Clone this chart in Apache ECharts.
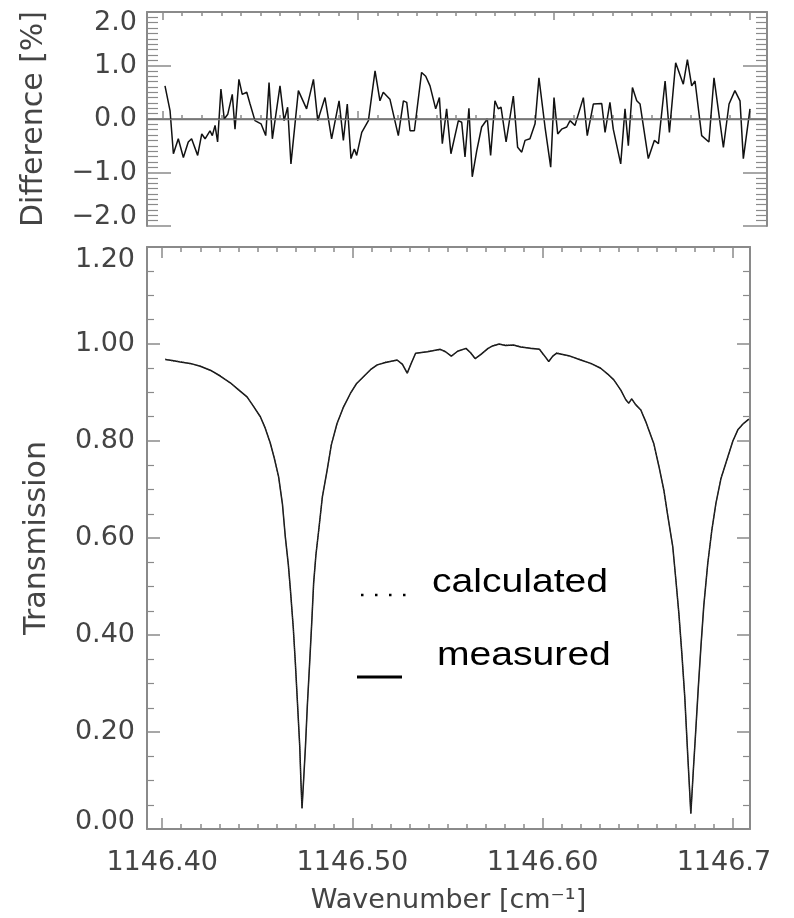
<!DOCTYPE html>
<html><head><meta charset="utf-8">
<script src="https://cdn.jsdelivr.net/npm/echarts@6/dist/echarts.min.js"></script>
<style>html,body{margin:0;padding:0;background:#fff}#c{width:794px;height:918px}</style>
</head><body><div id="c"></div>
<script>
// ---------------- data ----------------
const WAVENUMBER_T = [
1146.4016,1146.4053,1146.4095,1146.4147,1146.4200,1146.4253,1146.4305,1146.4358,1146.4400,1146.4446,
1146.4479,1146.4516,1146.4542,1146.4568,1146.4589,1146.4612,1146.4632,1146.4647,1146.4663,1146.4674,
1146.4689,1146.4700,1146.4711,1146.4723,1146.4729,1146.4735,1146.4744,1146.4753,1146.4763,1146.4775,
1146.4786,1146.4796,1146.4808,1146.4823,1146.4842,1146.4867,1146.4889,1146.4919,1146.4953,1146.4989,
1146.5021,1146.5059,1146.5095,1146.5130,1146.5174,1146.5235,1146.5263,1146.5288,1146.5311,1146.5332,
1146.5395,1146.5462,1146.5489,1146.5520,1146.5553,1146.5597,1146.5621,1146.5645,1146.5674,1146.5713,
1146.5737,1146.5771,1146.5805,1146.5847,1146.5884,1146.5937,1146.5983,1146.6005,1146.6032,1146.6053,
1146.6074,1146.6137,1146.6200,1146.6253,1146.6305,1146.6342,1146.6374,1146.6411,1146.6437,1146.6453,
1146.6468,1146.6489,1146.6516,1146.6542,1146.6568,1146.6584,1146.6611,1146.6637,1146.6658,1146.6684,
1146.6700,1146.6716,1146.6732,1146.6747,1146.6763,1146.6779,1146.6792,1146.6805,1146.6818,1146.6832,
1146.6847,1146.6868,1146.6889,1146.6911,1146.6937,1146.6974,1146.7000,1146.7026,1146.7053,1146.7068,1146.7084];
const MEASURED_T = [
.968,.966,.963,.960,.954,.946,.934,.920,.906,.891,
.872,.850,.826,.796,.765,.726,.670,.603,.545,.493,
.415,.342,.260,.170,.100,.043,.105,.170,.255,.342,
.425,.507,.565,.617,.685,.740,.792,.836,.870,.898,
.918,.933,.947,.957,.962,.967,.958,.940,.962,.981,
.984,.989,.984,.975,.985,.991,.982,.970,.978,.991,
.996,1.000,.997,.998,.994,.991,.989,.978,.964,.975,
.981,.976,.967,.960,.950,.938,.926,.905,.885,.878,
.887,.875,.864,.840,.812,.795,.748,.699,.645,.582,
.515,.445,.360,.273,.150,.032,.120,.204,.290,.376,
.460,.548,.615,.672,.722,.768,.800,.823,.835,.840,.845];
const CALCULATED_T = [
.969,.965,.964,.959,.955,.945,.935,.919,.907,.890,
.873,.849,.827,.795,.766,.725,.671,.602,.546,.492,
.416,.341,.261,.169,.101,.042,.106,.169,.256,.341,
.426,.506,.566,.616,.686,.739,.793,.835,.871,.897,
.919,.932,.948,.956,.963,.966,.959,.939,.963,.980,
.985,.988,.985,.974,.986,.990,.983,.969,.979,.990,
.997,.999,.998,.997,.995,.990,.990,.977,.965,.974,
.982,.975,.968,.959,.951,.937,.927,.904,.886,.877,
.888,.874,.865,.839,.813,.794,.749,.698,.646,.581,
.516,.444,.361,.272,.151,.031,.121,.203,.291,.375,
.461,.547,.616,.671,.723,.767,.801,.822,.836,.839,.846];
const WAVENUMBER_D = [
1146.4012,1146.4038,1146.4055,1146.4080,1146.4106,1146.4131,1146.4148,1146.4179,1146.4200,1146.4217,
1146.4242,1146.4254,1146.4268,1146.4281,1146.4298,1146.4315,1146.4333,1146.4356,1146.4370,1146.4390,
1146.4407,1146.4430,1146.4447,1146.4472,1146.4503,1146.4527,1146.4544,1146.4561,1146.4600,1146.4621,
1146.4639,1146.4656,1146.4694,1146.4736,1146.4771,1146.4793,1146.4830,1146.4864,1146.4902,1146.4924,
1146.4944,1146.4963,1146.4980,1146.4992,1146.5018,1146.5052,1146.5086,1146.5111,1146.5128,1146.5162,
1146.5205,1146.5231,1146.5248,1146.5265,1146.5287,1146.5324,1146.5345,1146.5367,1146.5396,1146.5415,
1146.5430,1146.5452,1146.5474,1146.5512,1146.5529,1146.5546,1146.5566,1146.5583,1146.5606,1146.5631,
1146.5660,1146.5677,1146.5699,1146.5716,1146.5730,1146.5756,1146.5793,1146.5815,1146.5836,1146.5853,
1146.5878,1146.5904,1146.5924,1146.5955,1146.5984,1146.6001,1146.6020,1146.6040,1146.6066,1146.6083,
1146.6108,1146.6151,1146.6171,1146.6202,1146.6245,1146.6262,1146.6287,1146.6304,1146.6342,1146.6364,
1146.6381,1146.6402,1146.6424,1146.6441,1146.6483,1146.6514,1146.6535,1146.6569,1146.6591,1146.6623,
1146.6662,1146.6683,1146.6705,1146.6722,1146.6756,1146.6793,1146.6819,1146.6867,1146.6896,1146.6926,
1146.6952,1146.6969,1146.7003];
const DIFFERENCE = [
.62,.15,-.65,-.37,-.72,-.43,-.37,-.68,-.28,-.37,
-.22,-.31,-.12,-.43,.56,.00,.09,.46,-.19,.74,
.46,.50,.28,-.03,-.09,-.31,.68,-.37,.62,-.03,
.22,-.84,.53,.19,.74,-.03,.40,-.37,.34,-.40,
.28,-.74,-.56,-.68,-.25,-.03,.90,.34,.50,.37,
-.31,.34,.31,-.22,-.22,.87,.80,.62,.19,.40,
-.46,.19,-.65,-.03,-.06,-.71,.20,-1.08,-.59,-.15,
.00,-.68,.34,.19,.22,-.43,.43,-.53,-.62,-.40,
-.37,-.09,.77,-.15,-.90,.40,-.28,-.19,-.15,-.03,
-.12,.40,-.31,.28,.29,-.25,.31,-.19,-.84,.19,
-.50,.59,.34,.28,-.74,-.40,-.46,.71,-.25,1.05,
.65,1.11,.62,.71,-.31,-.43,.77,-.53,.28,.53,
.34,-.74,.19];

// ticks and tick labels
const X_MAJOR = [1146.40, 1146.50, 1146.60, 1146.70];
const X_LABELS = ['1146.40', '1146.50', '1146.60', '1146.7'];
const X_MINOR = [1146.41,1146.42,1146.43,1146.44,1146.45,1146.46,1146.47,1146.48,1146.49,
                 1146.51,1146.52,1146.53,1146.54,1146.55,1146.56,1146.57,1146.58,1146.59,
                 1146.61,1146.62,1146.63,1146.64,1146.65,1146.66,1146.67,1146.68,1146.69];
const Y_DIFF_TICKS = [-2, -1, 0, 1, 2];
const Y_DIFF_LABELS = ['\u22122.0', '\u22121.0', '0.0', '1.0', '2.0'];
const Y_T_TICKS = [0, 0.2, 0.4, 0.6, 0.8, 1.0, 1.2];
const Y_T_LABELS = ['0.00', '0.20', '0.40', '0.60', '0.80', '1.00', '1.20'];

// ---------------- styling ----------------
const XMIN = 1146.392, XMAX = 1146.709;
const FONT = 'DejaVu Sans';
const LBL = {fontFamily: FONT, fontSize: 27, color: '#444'};
const FRAME = {show: true, lineStyle: {color: '#8a8a8a', width: 2}};
const TICKC = '#8a8a8a';

function lookup(ticks, labels, v) {
  let best = 0, d = Infinity;
  ticks.forEach((t, i) => { const dd = Math.abs(t - v); if (dd < d) { d = dd; best = i; } });
  return {i: best, s: labels[best]};
}

function xAxes(grid, pos, majLen, minLen, withLabels) {
  const major = {
    type: 'value', gridIndex: grid, position: pos, min: XMIN, max: XMAX,
    axisLine: FRAME, splitLine: {show: false},
    axisTick: {show: true, inside: true, length: majLen, customValues: X_MAJOR, lineStyle: {color: TICKC, width: 1.5}},
    axisLabel: {show: false}
  };
  if (withLabels) {
    major.axisLabel = Object.assign({}, LBL, {
      show: true, margin: 20, customValues: X_MAJOR,
      formatter: v => { const r = lookup(X_MAJOR, X_LABELS, v); return r.i === 3 ? '{clip|' + r.s + '}' : r.s; },
      rich: {clip: Object.assign({}, LBL, {padding: [0, 18, 0, 0]})}
    });
    major.name = 'Wavenumber [cm\u207B\u00B9]';
    major.nameLocation = 'middle';
    major.nameGap = 58;
    major.nameTextStyle = {fontFamily: FONT, fontSize: 27, color: '#444'};
  }
  const minor = {
    type: 'value', gridIndex: grid, position: pos, min: XMIN, max: XMAX,
    axisLine: {show: false}, splitLine: {show: false},
    axisTick: {show: true, inside: true, length: minLen, customValues: X_MINOR, lineStyle: {color: TICKC, width: 1.5}},
    axisLabel: {show: false}
  };
  return [major, minor];
}

function yAxis(grid, pos, min, max, interval, majLen, minSplit, minLen, labelCfg, name, nameGap) {
  const a = {
    type: 'value', gridIndex: grid, position: pos, min: min, max: max, interval: interval,
    axisLine: FRAME, splitLine: {show: false}, minorSplitLine: {show: false},
    axisTick: {show: true, inside: true, length: majLen, lineStyle: {color: TICKC, width: 1.5}},
    minorTick: {show: true, splitNumber: minSplit, length: minLen, lineStyle: {color: TICKC, width: 1.2}},
    axisLabel: labelCfg || {show: false}
  };
  if (name) {
    a.name = name; a.nameLocation = 'middle'; a.nameGap = nameGap;
    a.nameTextStyle = {fontFamily: FONT, fontSize: 30, color: '#444'};
  }
  return a;
}

const diffLabel = Object.assign({}, LBL, {
  show: true, margin: 10,
  formatter: v => {
    const r = lookup(Y_DIFF_TICKS, Y_DIFF_LABELS, v);
    if (r.i === 4) return '{dn|' + r.s + '}';
    if (r.i === 0) return '{up|' + r.s + '}';
    return r.s;
  },
  rich: {dn: Object.assign({}, LBL, {padding: [22, 0, 0, 0]}), up: Object.assign({}, LBL, {padding: [0, 0, 18, 0]})}
});
const tLabel = Object.assign({}, LBL, {
  show: true, margin: 12,
  formatter: v => {
    const r = lookup(Y_T_TICKS, Y_T_LABELS, v);
    if (r.i === 6) return '{dn|' + r.s + '}';
    if (r.i === 0) return '{up|' + r.s + '}';
    return r.s;
  },
  rich: {dn: Object.assign({}, LBL, {padding: [26, 0, 0, 0]}), up: Object.assign({}, LBL, {padding: [0, 0, 14, 0]})}
});

const zip = (xs, ys) => xs.map((x, i) => [x, ys[i]]);

const option = {
  animation: false,
  backgroundColor: '#fff',
  grid: [
    {left: 147, top: 12, width: 620, height: 214, containLabel: false, outerBoundsMode: 'none'},
    {left: 147, top: 247, width: 603, height: 582, containLabel: false, outerBoundsMode: 'none'}
  ],
  xAxis: [].concat(
    xAxes(0, 'bottom', 8, 4, false),
    xAxes(0, 'top', 8, 4, false),
    xAxes(1, 'bottom', 11, 5, true),
    xAxes(1, 'top', 11, 5, false)
  ),
  yAxis: [
    yAxis(0, 'left', -2, 2, 1, 24, 10, 11, diffLabel, 'Difference [%]', 98),
    yAxis(0, 'right', -2, 2, 1, 24, 10, 11, null),
    yAxis(1, 'left', 0, 1.2, 0.2, 13, 4, 7, tLabel, 'Transmission', 95),
    yAxis(1, 'right', 0, 1.2, 0.2, 13, 4, 7, null)
  ],
  series: [
    {
      name: 'Difference', type: 'line', xAxisIndex: 0, yAxisIndex: 0,
      data: zip(WAVENUMBER_D, DIFFERENCE), symbol: 'none', showSymbol: false,
      lineStyle: {color: '#111', width: 1.5},
      markLine: {silent: true, symbol: 'none', label: {show: false},
        lineStyle: {color: '#777', width: 1.3, type: 'solid'}, data: [{yAxis: 0}]}
    },
    {
      name: 'measured', type: 'line', xAxisIndex: 4, yAxisIndex: 2,
      data: zip(WAVENUMBER_T, MEASURED_T), symbol: 'none', showSymbol: false,
      lineStyle: {color: '#111', width: 1.5}
    },
    {
      name: 'calculated', type: 'line', xAxisIndex: 4, yAxisIndex: 2,
      data: zip(WAVENUMBER_T, CALCULATED_T), symbol: 'none', showSymbol: false,
      lineStyle: {color: '#333', width: 1, type: 'dotted'}
    }
  ],
  graphic: [
    {type: 'line', shape: {x1: 361, y1: 595, x2: 406, y2: 595},
     style: {stroke: '#000', lineWidth: 2.5, lineDash: [2.5, 11.5]}},
    {type: 'text', x: 432, y: 583, scaleX: 1.15,
     style: {text: 'calculated', fontFamily: 'Liberation Sans', fontSize: 34, fill: '#000', verticalAlign: 'middle', align: 'left'}},
    {type: 'line', shape: {x1: 357, y1: 677, x2: 402, y2: 677},
     style: {stroke: '#000', lineWidth: 3}},
    {type: 'text', x: 437, y: 656, scaleX: 1.15,
     style: {text: 'measured', fontFamily: 'Liberation Sans', fontSize: 34, fill: '#000', verticalAlign: 'middle', align: 'left'}}
  ]
};

const chart = echarts.init(document.getElementById('c'), null, {renderer: 'canvas'});
chart.setOption(option);
</script></body></html>
